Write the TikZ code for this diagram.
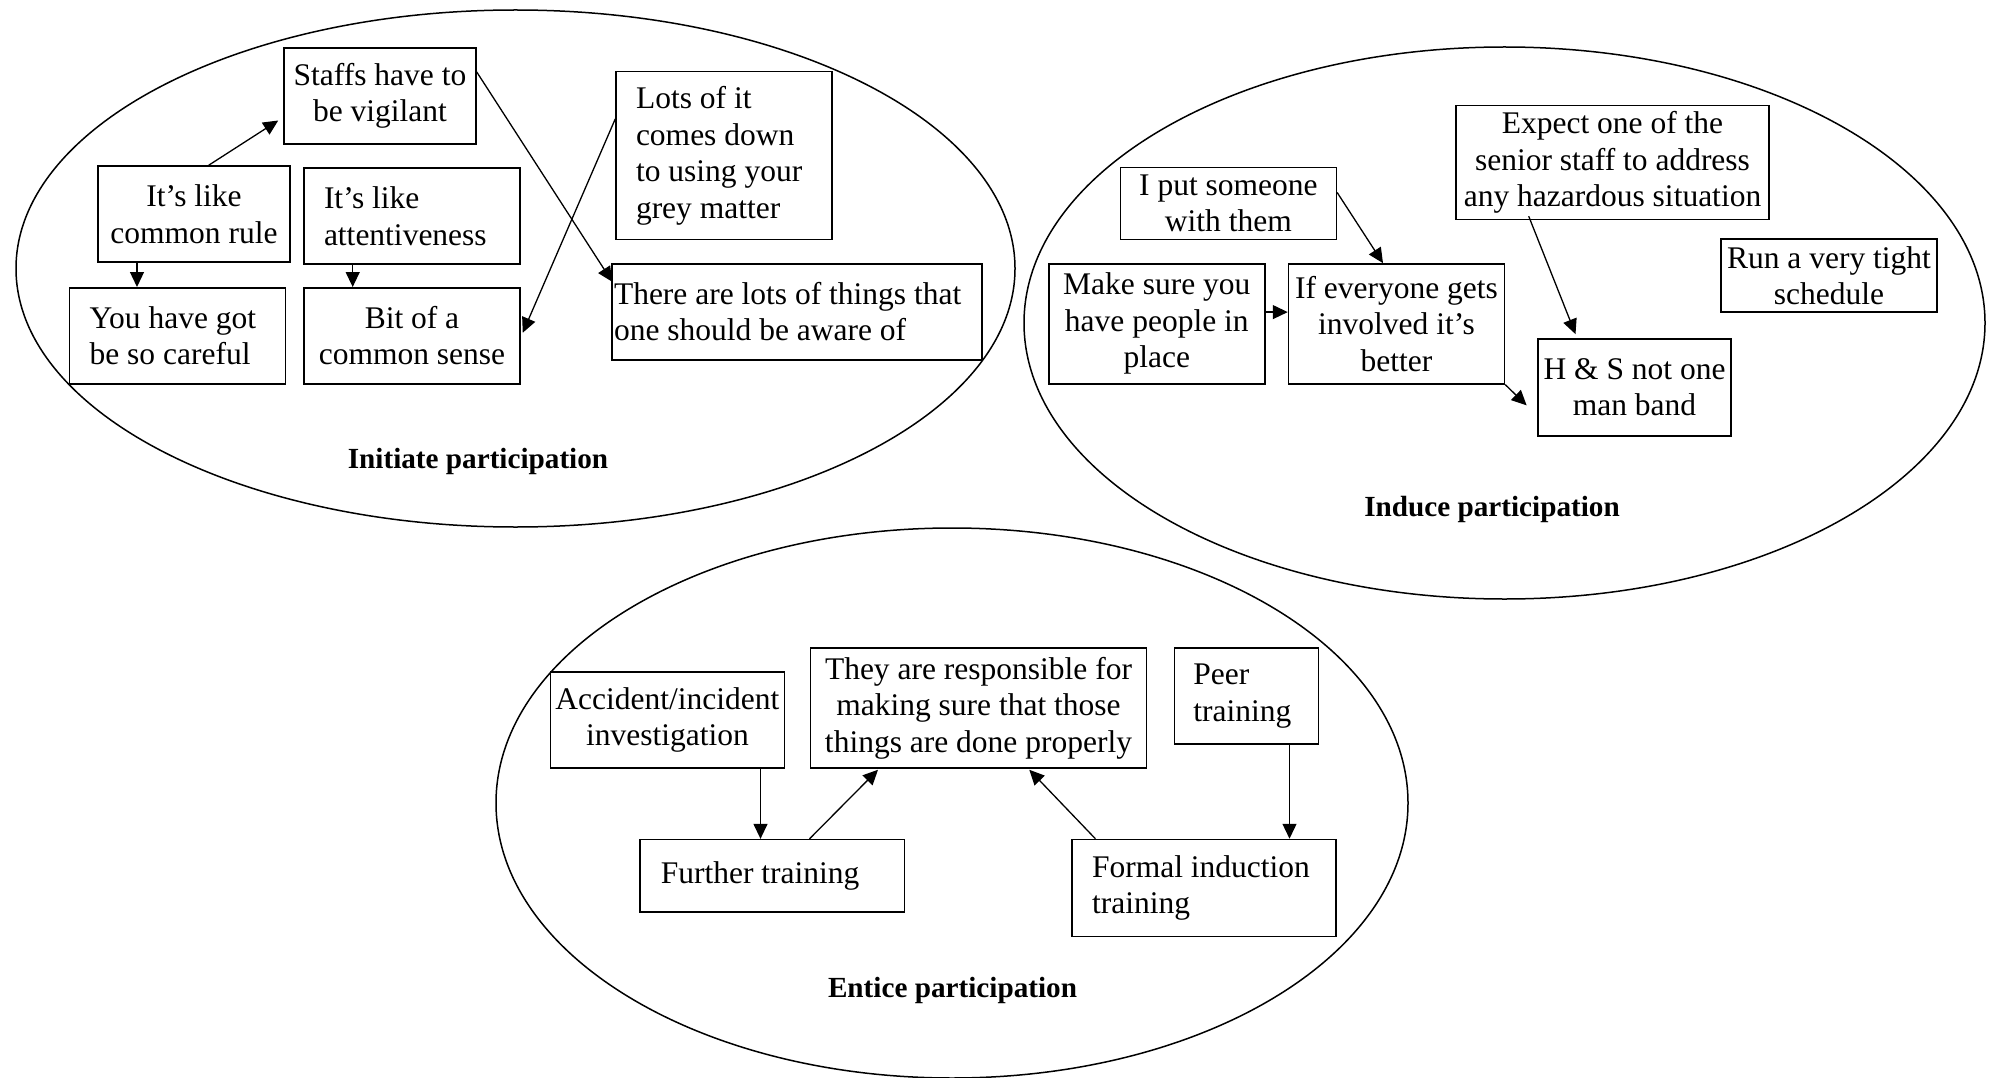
\documentclass[tikz,border=0pt]{standalone}
\usepackage{fontspec}
\setmainfont{Liberation Serif}
\usetikzlibrary{arrows.meta,calc}
\begin{document}
\begin{tikzpicture}[x=1pt,y=-1pt,
  ring/.style={draw,line width=1.5pt},
  bx/.style 2 args={draw,rectangle,line width=1.5pt,inner ysep=0pt,
    minimum width=#1,minimum height=#2,font=\fontsize{31.5}{36.5}\selectfont},
  cc/.style={align=center,inner xsep=1pt},
  lft/.style={align=flush left},
  lbl/.style={font=\fontsize{29.2}{34}\selectfont\bfseries,anchor=base,inner sep=0pt},
  arr/.style={line width=1.3pt,-{Triangle[length=15pt,width=14pt]}}]
\fill[white] (0,0) rectangle (1989,1078);
\useasboundingbox (0,0) rectangle (1989,1078);

% the three groups
\draw[ring] (515.5,268.5) ellipse [x radius=499.5pt, y radius=258.5pt];
\draw[ring] (1504.5,323) ellipse [x radius=480.5pt, y radius=276pt];
\draw[ring] (952,803) ellipse [x radius=456pt, y radius=275pt];

% Initiate participation
\node[bx={192pt}{96pt},cc] (A) at (380,96) {Staffs have to\\be vigilant};
\node[bx={192pt}{96pt},cc] (B) at (194,214) {It’s like\\common rule};
\node[bx={216pt}{96pt},lft,inner xsep=20pt,text width=176pt] (C) at (412,216) {It’s like\\attentiveness};
\node[bx={216pt}{96pt},lft,inner xsep=20pt,text width=176pt] (D) at (177.6,335.75) {\mbox{You have got}\\be so careful};
\node[bx={216pt}{96pt},cc] (E) at (412,335.75) {Bit of a\\common sense};
\node[bx={216pt}{168pt},lft,inner xsep=20pt,text width=176pt] (F) at (724,155.65) {Lots of it\\comes down\\to using your\\grey matter};
\node[bx={370pt}{96pt},lft,inner xsep=2pt,text width=366pt] (G) at (797,311.8) {There are lots of things that\\one should be aware of};
\node[lbl] (t1) at (478,468) {Initiate participation};

% Induce participation
\node[bx={216pt}{72pt},cc] (H) at (1228.4,203.5) {I put someone\\with them};
\node[bx={216pt}{120pt},cc] (I) at (1156.8,323.9) {Make sure you\\have people in\\place};
\node[bx={216pt}{120pt},cc] (J) at (1396.5,323.9) {If everyone gets\\involved it’s\\better};
\node[bx={313pt}{114pt},cc] (K) at (1612.5,162.5) {Expect one of the\\senior staff to address\\any hazardous situation};
\node[bx={216pt}{73pt},cc] (L) at (1829,275.7) {Run a very tight\\schedule};
\node[bx={193pt}{97pt},cc] (M) at (1634.5,387.4) {H \& S not one\\man band};
\node[lbl] (t2) at (1492,516) {Induce participation};

% Entice participation
\node[bx={234pt}{96pt},cc] (N) at (667.4,720) {Accident/incident\\investigation};
\node[bx={335.6pt}{120pt},cc] (O) at (978.5,708) {They are responsible for\\making sure that those\\things are done properly};
\node[bx={144pt}{96pt},lft,inner xsep=19pt,text width=106pt] (P) at (1246.4,696.1) {Peer\\training};
\node[bx={264.6pt}{72.6pt},lft,inner xsep=21pt,text width=222.6pt] (Q) at (772.1,875.9) {Further training};
\node[bx={264pt}{97pt},lft,inner xsep=20pt,text width=224pt] (R) at (1204.1,888) {\mbox{Formal induction}\\training};
\node[lbl] (t3) at (952.5,997.5) {Entice participation};

% connectors
\draw[arr] ($(B.north)+(14.7,0)$) -- ($(A.west)+(-5,24.5)$);
\draw[arr] ($(B.south)+(-57,0)$) -- ($(D.north)+(-40.6,0)$);
\draw[arr] ($(C.south)+(-59.3,0)$) -- ($(E.north)+(-59.3,0)$);
\draw[arr] ($(A.east)+(0,-24)$) -- ($(G.west)+(1,-30)$);
\draw[arr] ($(F.west)+(0,-36.7)$) -- ($(E.east)+(2,-3)$);

\draw[arr] ($(H.east)+(0,-11)$) -- ($(J.north)+(-13.5,0)$);
\draw[arr] ($(I.east)+(0,-11.8)$) -- ($(J.west)+(0,-11.8)$);
\draw[arr] ($(K.south)+(-83.8,-4)$) -- ($(M.north)+(-59,-4)$);
\draw[arr] (J.south east) -- ($(M.west)+(-10.6,18)$);

\draw[arr] ($(N.south)+(93.1,0)$) -- ($(Q.north)+(-11.6,0)$);
\draw[arr] ($(Q.north)+(37.4,0)$) -- ($(O.south)+(-100.5,1)$);
\draw[arr] ($(R.north)+(-108.7,0)$) -- ($(O.south)+(50.8,1)$);
\draw[arr] ($(P.south)+(43.1,0)$) -- ($(R.north)+(85.4,0)$);
\end{tikzpicture}
\end{document}
